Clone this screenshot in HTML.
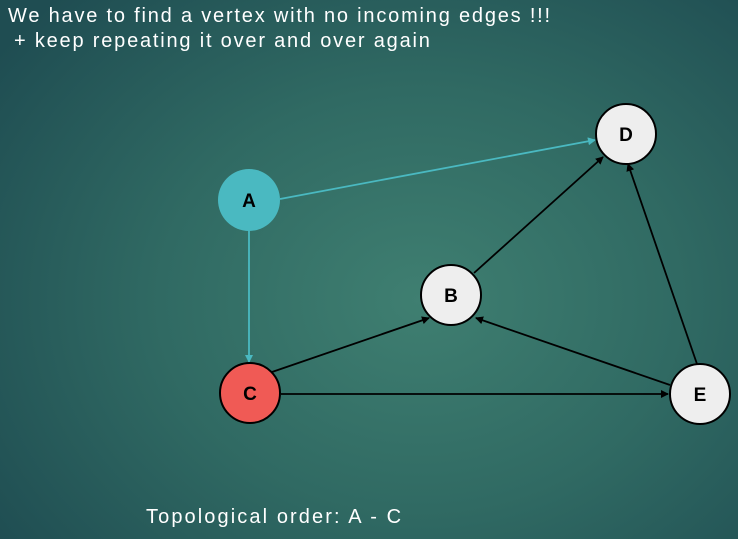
<!DOCTYPE html>
<html><head><meta charset="utf-8"><style>
html,body{margin:0;padding:0}
body{width:738px;height:539px;overflow:hidden;background:radial-gradient(ellipse 520px 420px at 420px 300px,#3f7f71 0%,#306a63 50%,#1f4d52 100%);font-family:"Liberation Sans",sans-serif;position:relative}
.t{position:absolute;color:#fff;font-size:20px;letter-spacing:1.8px;white-space:nowrap}
</style></head><body>
<div class="t" style="left:8px;top:5px">We have to find a vertex with no incoming edges !!!</div>
<div class="t" style="left:14px;top:30px">+ keep repeating it over and over again</div>
<div class="t" style="left:146px;top:506px;letter-spacing:2.1px">Topological order: A - C</div>
<svg width="738" height="539" style="position:absolute;left:0;top:0">
<defs>
<marker id="k" markerWidth="8" markerHeight="8" refX="7" refY="4" orient="auto" markerUnits="userSpaceOnUse"><path d="M0,0 L8,4 L0,8 z" fill="#000"/></marker>
<marker id="c" markerWidth="8" markerHeight="8" refX="7" refY="4" orient="auto" markerUnits="userSpaceOnUse"><path d="M0,0 L8,4 L0,8 z" fill="#4ab9c1"/></marker>
</defs>
<g stroke-width="1.8" fill="none">
<line x1="280" y1="199" x2="595" y2="140" stroke="#4ab9c1" marker-end="url(#c)"/>
<line x1="249" y1="231" x2="249" y2="362" stroke="#4ab9c1" marker-end="url(#c)"/>
<line x1="272" y1="372" x2="429" y2="318" stroke="#000" marker-end="url(#k)"/>
<line x1="281" y1="394" x2="668" y2="394" stroke="#000" marker-end="url(#k)"/>
<line x1="474" y1="273" x2="603" y2="157" stroke="#000" marker-end="url(#k)"/>
<line x1="670" y1="385" x2="476" y2="318" stroke="#000" marker-end="url(#k)"/>
<line x1="697" y1="364" x2="628" y2="164" stroke="#000" marker-end="url(#k)"/>
</g>
<g font-family="Liberation Sans,sans-serif" font-weight="bold" font-size="19" text-anchor="middle">
<circle cx="249" cy="200" r="31" fill="#4ab9c1"/><text x="249" y="207">A</text>
<circle cx="250" cy="393" r="30" fill="#f05a55" stroke="#000" stroke-width="2"/><text x="250" y="400">C</text>
<circle cx="451" cy="295" r="30" fill="#eeeeee" stroke="#000" stroke-width="2"/><text x="451" y="302">B</text>
<circle cx="626" cy="134" r="30" fill="#eeeeee" stroke="#000" stroke-width="2"/><text x="626" y="141">D</text>
<circle cx="700" cy="394" r="30" fill="#eeeeee" stroke="#000" stroke-width="2"/><text x="700" y="401">E</text>
</g>
</svg>
</body></html>
